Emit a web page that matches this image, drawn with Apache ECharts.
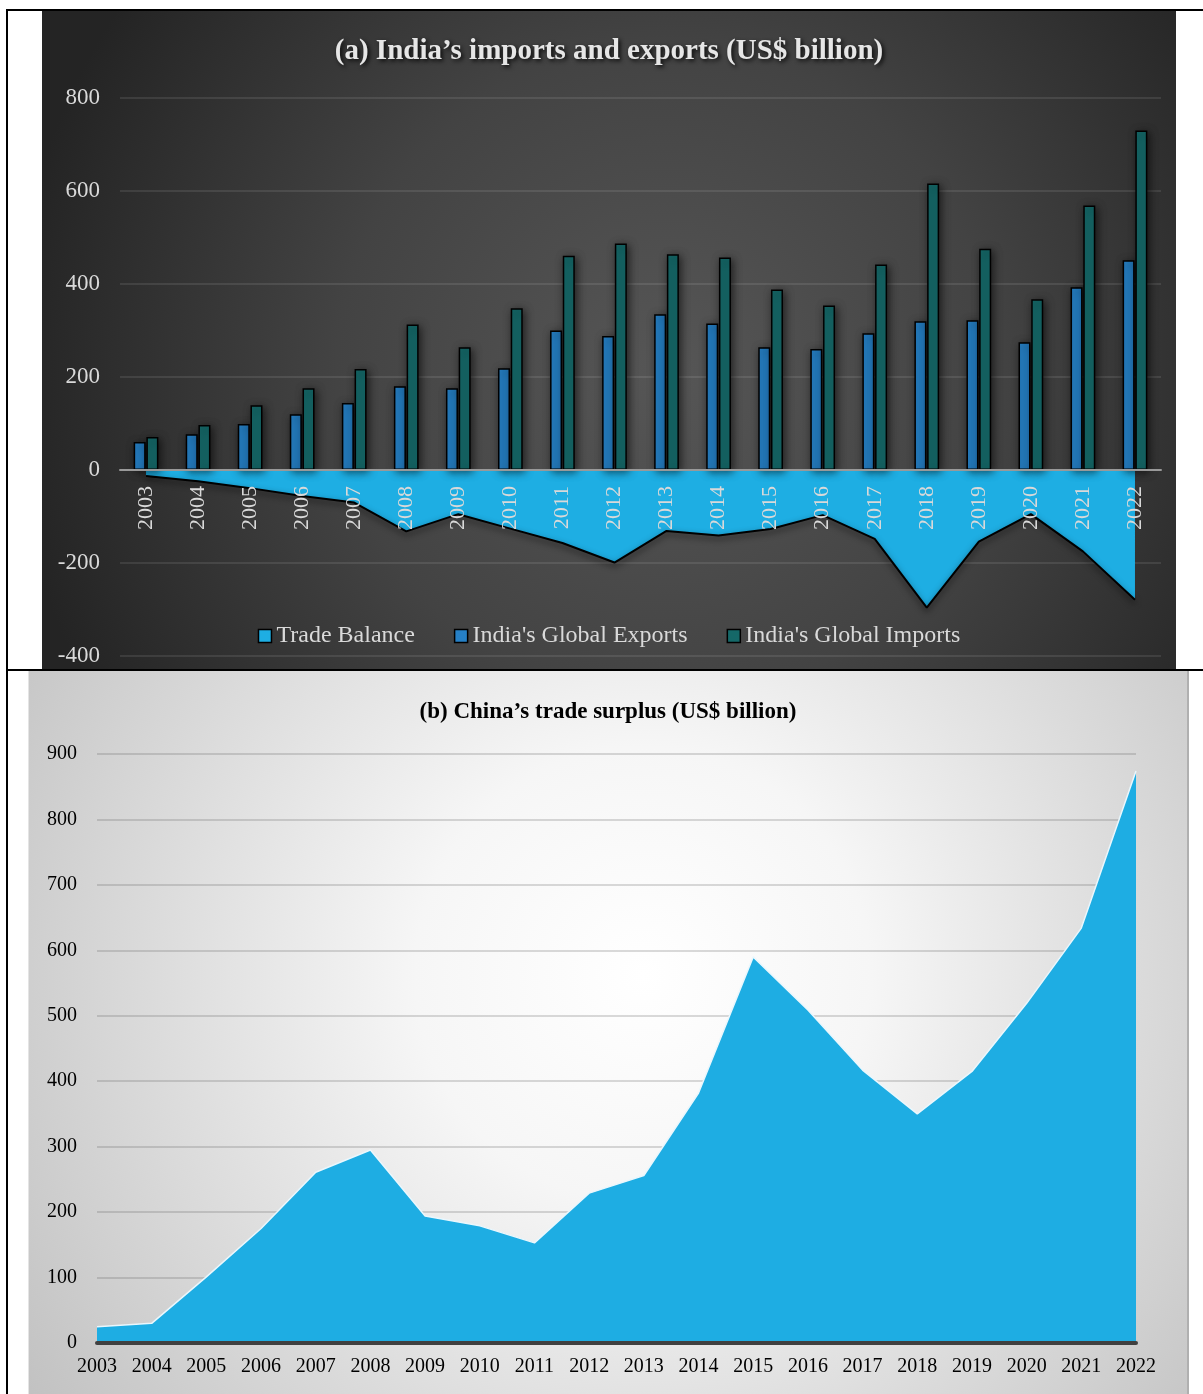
<!DOCTYPE html>
<html>
<head>
<meta charset="utf-8">
<script src="https://cdn.jsdelivr.net/npm/echarts@6/dist/echarts.min.js"></script>
<style>
  html, body { margin: 0; padding: 0; background: #fff; }
  body { width: 1203px; height: 1394px; position: relative; overflow: hidden; }
  .line { position: absolute; background: #000; }
  #chartA { position: absolute; left: 42px; top: 11px; width: 1134px; height: 658px; }
  #chartB { position: absolute; left: 28px; top: 671px; width: 1161px; height: 723px; box-sizing: border-box; border-left: 1px solid #e4e4e4; border-right: 2px solid #b0b0b0; }
</style>
</head>
<body>
<div id="chartA"></div>
<div id="chartB"></div>
<div class="line" style="left:7px; top:9px; width:1196px; height:2px;"></div>
<div class="line" style="left:7px; top:669px; width:1196px; height:2px;"></div>
<div class="line" style="left:6px; top:9px; width:2px; height:1385px;"></div>
<script>
// ---- Data ----
const years = ['2003','2004','2005','2006','2007','2008','2009','2010','2011','2012',
               '2013','2014','2015','2016','2017','2018','2019','2020','2021','2022'];

// (a) India (US$ billion)
const indiaTradeBalance = [-13, -24, -39, -56, -70, -132, -95, -126, -157, -199,
                           -131, -141, -127, -97, -148, -296, -154, -95, -175, -279];
const indiaExports = [60, 77, 99, 120, 144, 180, 176, 219, 300, 288,
                      335, 315, 264, 260, 294, 320, 322, 275, 393, 451];
const indiaImports = [71, 97, 139, 176, 217, 313, 264, 348, 461, 487,
                      464, 457, 388, 354, 442, 616, 476, 367, 569, 730];
const yTicksA = { min: -400, max: 800, interval: 200 };

// (b) China trade surplus (US$ billion)
const chinaSurplus = [25, 30, 101, 175, 261, 295, 194, 179, 153, 229,
                      256, 382, 590, 509, 417, 350, 415, 519, 634, 874];
const yTicksB = { min: 0, max: 900, interval: 100 };

const titleA = '(a) India\u2019s imports and exports (US$ billion)';
const titleB = '(b) China\u2019s trade surplus (US$ billion)';
const seriesNamesA = ['Trade Balance', "India's Global Exports", "India's Global Imports"];

const serif = '"Liberation Serif", "Times New Roman", "DejaVu Serif", serif';

// ---- Chart A ----
const elA = document.getElementById('chartA');
const gridA = { left: 78, right: 15, top: 87, bottom: 13 };
const plotHA = elA.clientHeight - gridA.top - gridA.bottom;
// distance of the zero line above the grid bottom (so year labels sit just under zero)
const zeroOffsetA = plotHA * (0 - yTicksA.min) / (yTicksA.max - yTicksA.min);

const chartA = echarts.init(elA);
chartA.setOption({
  animation: false,
  backgroundColor: {
    type: 'radial', x: 0.55, y: 0.55, r: 1.0,
    colorStops: [
      { offset: 0, color: '#565656' },
      { offset: 0.5, color: '#434343' },
      { offset: 1, color: '#242424' }
    ]
  },
  title: {
    text: titleA,
    left: 'center',
    top: 21,
    textStyle: {
      fontFamily: serif, fontSize: 29, fontWeight: 'bold', color: '#e6e6e6',
      textShadowColor: 'rgba(0,0,0,0.85)', textShadowBlur: 4, textShadowOffsetX: 2, textShadowOffsetY: 2
    }
  },
  legend: {
    data: seriesNamesA,
    left: 'center',
    top: 608,
    icon: 'rect',
    itemWidth: 13,
    itemHeight: 13,
    itemGap: 39,
    itemStyle: { borderColor: '#000', borderWidth: 1.5 },
    textStyle: { fontFamily: serif, fontSize: 24, color: '#d9d9d9' }
  },
  grid: Object.assign({ containLabel: false, outerBoundsMode: 'none' }, gridA),
  xAxis: [
    {
      type: 'category',
      data: years,
      z: 10,
      axisLine: { onZero: true, lineStyle: { color: '#999', width: 2 } },
      axisTick: { show: false },
      axisLabel: { show: false }
    },
    {
      type: 'category',
      data: years,
      position: 'bottom',
      offset: -zeroOffsetA,
      z: 10,
      axisLine: { show: false, onZero: false },
      axisTick: { show: false },
      axisLabel: { rotate: 90, margin: 16, fontFamily: serif, fontSize: 22, color: '#d9d9d9', interval: 0 }
    }
  ],
  yAxis: {
    type: 'value',
    min: yTicksA.min, max: yTicksA.max, interval: yTicksA.interval,
    axisLine: { show: false },
    axisTick: { show: false },
    axisLabel: { margin: 20, fontFamily: serif, fontSize: 23, color: '#d9d9d9' },
    splitLine: { lineStyle: { color: 'rgba(255,255,255,0.13)', width: 1.5 } }
  },
  series: [
    {
      name: seriesNamesA[0],
      type: 'line',
      data: indiaTradeBalance,
      symbol: 'none',
      itemStyle: { color: '#1eaee3' },
      lineStyle: { color: '#000', width: 2, shadowColor: 'rgba(0,0,0,0.7)', shadowBlur: 6, shadowOffsetY: 3 },
      areaStyle: { color: '#1eaee3', opacity: 1 },
      z: 1
    },
    {
      name: seriesNamesA[1],
      type: 'bar',
      data: indiaExports,
      barWidth: 12,
      barGap: '6%',
      itemStyle: { color: '#2680c6', borderColor: '#000', borderWidth: 1.5,
        shadowColor: 'rgba(0,0,0,0.6)', shadowBlur: 8, shadowOffsetX: 2, shadowOffsetY: 2 },
      z: 3
    },
    {
      name: seriesNamesA[2],
      type: 'bar',
      data: indiaImports,
      barWidth: 12,
      barGap: '6%',
      itemStyle: { color: '#156868', borderColor: '#000', borderWidth: 1.5,
        shadowColor: 'rgba(0,0,0,0.6)', shadowBlur: 8, shadowOffsetX: 2, shadowOffsetY: 2 },
      z: 3
    }
  ]
});

// ---- Chart B ----
const chartB = echarts.init(document.getElementById('chartB'));
chartB.setOption({
  animation: false,
  backgroundColor: {
    type: 'radial', x: 0.53, y: 0.42, r: 1.05,
    colorStops: [
      { offset: 0, color: '#ffffff' },
      { offset: 0.3, color: '#f6f6f6' },
      { offset: 1, color: '#c0c0c0' }
    ]
  },
  title: {
    text: titleB,
    left: 'center',
    top: 25,
    textStyle: { fontFamily: serif, fontSize: 23, fontWeight: 'bold', color: '#000' }
  },
  grid: { left: 68, right: 51, top: 83, bottom: 51, containLabel: false, outerBoundsMode: 'none' },
  xAxis: {
    type: 'category',
    data: years,
    boundaryGap: false,
    z: 10,
    axisLine: { lineStyle: { color: '#404040', width: 4 } },
    axisTick: { show: false },
    axisLabel: { margin: 14, fontFamily: serif, fontSize: 20, color: '#000', interval: 0 }
  },
  yAxis: {
    type: 'value',
    min: yTicksB.min, max: yTicksB.max, interval: yTicksB.interval,
    axisLine: { show: false },
    axisTick: { show: false },
    axisLabel: { margin: 20, fontFamily: serif, fontSize: 20, color: '#000' },
    splitLine: { lineStyle: { color: 'rgba(90,90,90,0.3)', width: 1.5 } }
  },
  series: [
    {
      name: 'China trade surplus',
      type: 'line',
      data: chinaSurplus,
      symbol: 'none',
      lineStyle: { color: '#eaf7fd', width: 1.5 },
      areaStyle: { color: '#1eade3', opacity: 1 }
    }
  ]
});
</script>
</body>
</html>
